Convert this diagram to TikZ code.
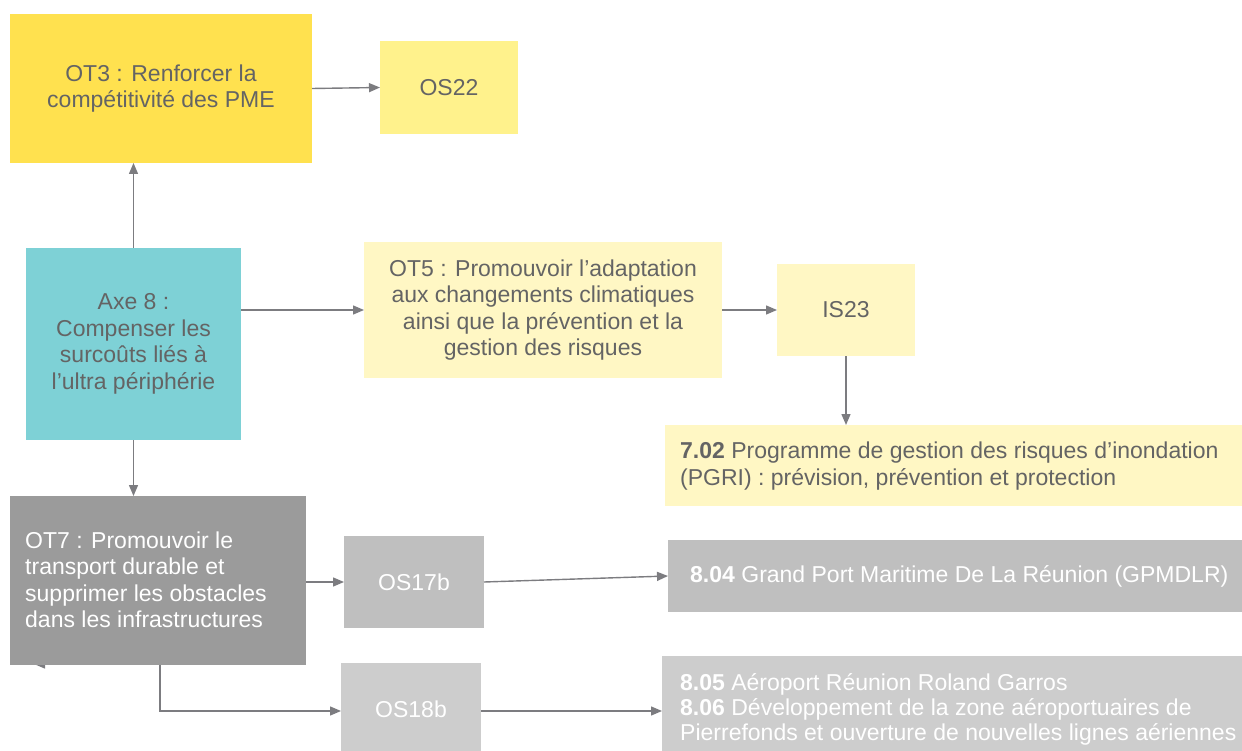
\documentclass[tikz,border=0pt]{standalone}
\usepackage{fontspec}
\setmainfont{Liberation Sans}
\usetikzlibrary{arrows.meta}
\definecolor{ot3yel}{HTML}{FFE14F}
\definecolor{osyel}{HTML}{FFF28C}
\definecolor{paleyel}{HTML}{FFF7C4}
\definecolor{axeteal}{HTML}{7ED1D6}
\definecolor{darkgrey}{HTML}{9B9B9B}
\definecolor{midgrey}{HTML}{BFBFBF}
\definecolor{lightgrey}{HTML}{CDCDCD}
\definecolor{txtgrey}{HTML}{646464}
\definecolor{arrgrey}{HTML}{7C7C80}
\tikzset{
  txt/.style={font=\fontsize{23}{26.5}\selectfont},
  box/.style={inner sep=0pt, outer sep=0pt, txt},
  dtext/.style={text=txtgrey},
  wtext/.style={text=white},
  arr/.style={draw=arrgrey, line width=1.4pt, -{Triangle[length=11pt,width=9pt]}}
}
\begin{document}
\begin{tikzpicture}[x=1pt,y=-1pt]
\useasboundingbox (0,0) rectangle (1242,751);

% small stub tip peeking below the OT7 box
\coordinate (stubA) at (70,664);
\coordinate (stubB) at (34,664);
\draw[arr] (stubA) -- (stubB);

% boxes
\node[box, dtext, fill=ot3yel, minimum width=302pt, minimum height=149pt, align=center] (ot3) at (161,88.5)
  {OT3 : Renforcer la\\compétitivité des PME};
\node[box, dtext, fill=osyel, minimum width=138pt, minimum height=93pt] (os22) at (449,87.5) {OS22};
\node[box, dtext, fill=axeteal, minimum width=215pt, minimum height=192pt, align=center] (axe) at (133.5,344)
  {Axe 8 :\\Compenser les\\surcoûts liés à\\l’ultra périphérie};
\node[box, dtext, fill=paleyel, minimum width=358pt, minimum height=136pt, align=center] (ot5) at (543,310)
  {OT5 : Promouvoir l’adaptation\\aux changements climatiques\\ainsi que la prévention et la\\gestion des risques};
\node[box, dtext, fill=paleyel, minimum width=138pt, minimum height=92pt] (is23) at (846,310) {IS23};
\node[box, dtext, fill=paleyel, minimum width=577pt, minimum height=81pt] (m702) at (953.5,465.5) {};
\node[dtext, txt, align=left, anchor=west, inner sep=0pt] (t702) at (680,466)
  {\textbf{7.02} Programme de gestion des risques d’inondation\\(PGRI) : prévision, prévention et protection};
\node[box, wtext, fill=darkgrey, minimum width=296pt, minimum height=169pt] (ot7) at (158,580.5) {};
\node[wtext, txt, align=left, anchor=west, inner sep=0pt] (tot7) at (25,580)
  {OT7 : Promouvoir le\\transport durable et\\supprimer les obstacles\\dans les infrastructures};
\node[box, wtext, fill=midgrey, minimum width=140pt, minimum height=92pt] (os17) at (414,582) {OS17b};
\node[box, fill=midgrey, minimum width=574pt, minimum height=72pt] (m804) at (955,576) {};
\node[wtext, txt, anchor=west, inner sep=0pt] (t804) at (690,576)
  {\textbf{8.04} Grand Port Maritime De La Réunion (GPMDLR)};
\node[box, wtext, fill=lightgrey, minimum width=140pt, minimum height=92pt] (os18) at (411,709) {OS18b};
\node[box, fill=lightgrey, minimum width=580pt, minimum height=96pt] (m805) at (952,704) {};
\node[wtext, font=\fontsize{23}{25}\selectfont, align=left, anchor=west, inner sep=0pt] (t805) at (680,709)
  {\textbf{8.05} Aéroport Réunion Roland Garros\\\textbf{8.06} Développement de la zone aéroportuaires de\\Pierrefonds et ouverture de nouvelles lignes aériennes};

% connectors
\draw[arr] (axe.north) -- (ot3.south -| axe.north);
\draw[arr] (ot3.east) -- (os22.west);
\draw[arr] (axe.east |- ot5.west) -- (ot5.west);
\draw[arr] (ot5.east) -- (is23.west);
\draw[arr] (is23.south) -- (m702.north -| is23.south);
\draw[arr] (axe.south) -- (ot7.north -| axe.south);
\draw[arr] (ot7.east |- os17.west) -- (os17.west);
\draw[arr] (os17.east) -- (m804.west);
\coordinate (bend) at (160,711);
\draw[arr] (ot7.south -| bend) -- (bend) -- (os18.west |- bend);
\draw[arr] (os18.east |- bend) -- (m805.west |- bend);
\end{tikzpicture}
\end{document}
